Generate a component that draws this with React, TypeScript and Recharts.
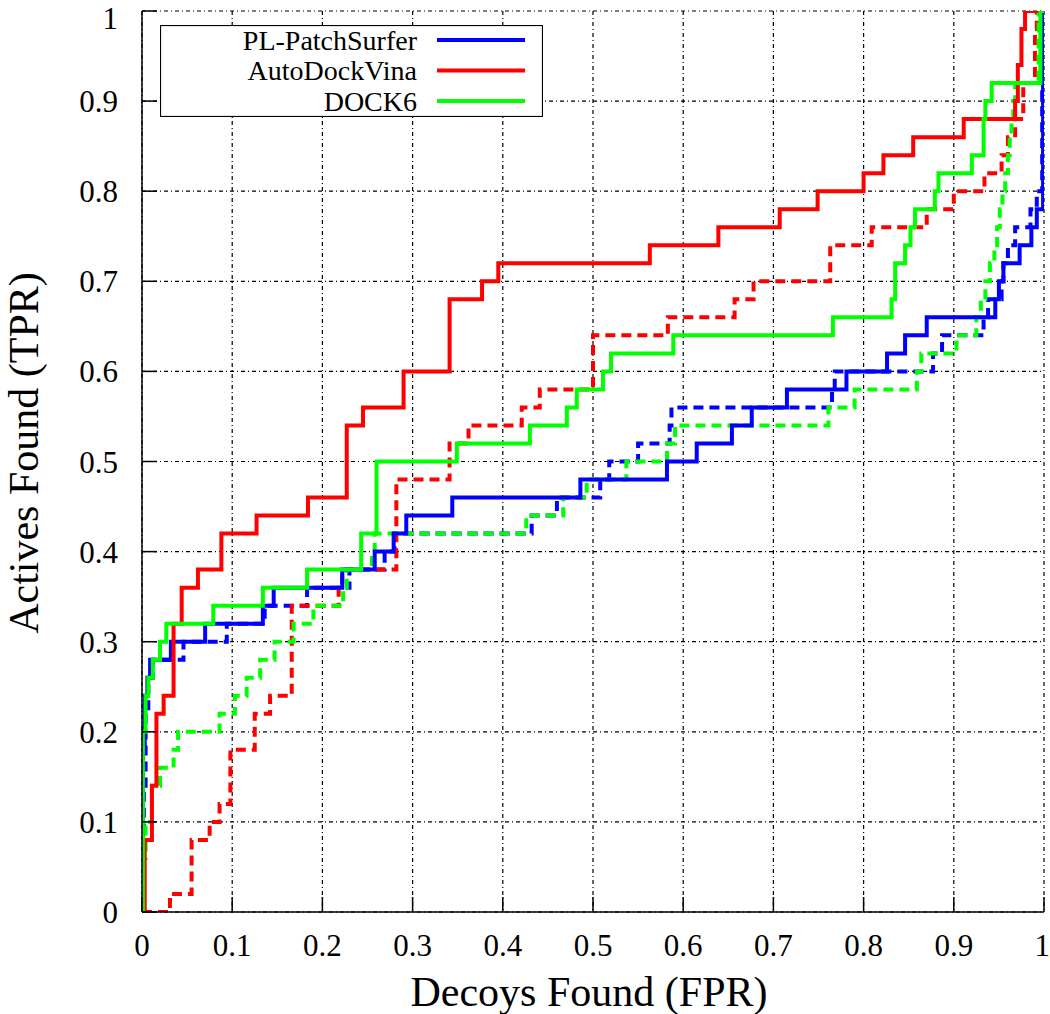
import { LineChart, Line, XAxis, YAxis, CartesianGrid, Legend, Label } from 'recharts'

const FONT = '"Liberation Serif", "DejaVu Serif", serif'

const xTicks = [0, 0.1, 0.2, 0.3, 0.4, 0.5, 0.6, 0.7, 0.8, 0.9, 1]
const yTicks = [0, 0.1, 0.2, 0.3, 0.4, 0.5, 0.6, 0.7, 0.8, 0.9, 1]

// PL-PatchSurfer (solid / dashed)
const plFpr = [0, 0.001, 0.003, 0.006, 0.009, 0.032, 0.07, 0.134, 0.146, 0.222, 0.258, 0.279, 0.293, 0.344, 0.486, 0.582, 0.615, 0.654, 0.676, 0.715, 0.781, 0.826, 0.846, 0.87, 0.946, 0.95, 0.955, 0.973, 0.986, 0.992, 0.999, 1]
const plTpr = [0, 0.18, 0.24, 0.26, 0.28, 0.30, 0.32, 0.34, 0.36, 0.38, 0.40, 0.42, 0.44, 0.46, 0.48, 0.50, 0.52, 0.54, 0.56, 0.58, 0.60, 0.62, 0.64, 0.66, 0.68, 0.70, 0.72, 0.74, 0.76, 0.78, 1.0, 1.0]
const plDashFpr = [0, 0.002, 0.004, 0.007, 0.012, 0.046, 0.094, 0.136, 0.183, 0.23, 0.269, 0.28, 0.432, 0.46, 0.508, 0.518, 0.55, 0.585, 0.587, 0.765, 0.768, 0.877, 0.887, 0.933, 0.938, 0.953, 0.955, 0.96, 0.968, 0.985, 0.992, 0.998, 1]
const plDashTpr = [0, 0.14, 0.22, 0.26, 0.28, 0.30, 0.32, 0.34, 0.36, 0.38, 0.40, 0.42, 0.44, 0.46, 0.48, 0.50, 0.52, 0.54, 0.56, 0.58, 0.60, 0.62, 0.64, 0.66, 0.68, 0.70, 0.72, 0.74, 0.76, 0.78, 0.80, 1.0, 1.0]

// AutoDockVina (solid / dashed)
const vinaFpr = [0, 0.003, 0.011, 0.016, 0.024, 0.035, 0.044, 0.062, 0.088, 0.127, 0.184, 0.227, 0.245, 0.29, 0.341, 0.377, 0.395, 0.563, 0.639, 0.707, 0.749, 0.80, 0.822, 0.855, 0.911, 0.968, 0.971, 0.975, 0.979, 1]
const vinaTpr = [0, 0.08, 0.14, 0.22, 0.24, 0.32, 0.36, 0.38, 0.42, 0.44, 0.46, 0.54, 0.56, 0.60, 0.68, 0.70, 0.72, 0.74, 0.76, 0.78, 0.80, 0.82, 0.84, 0.86, 0.88, 0.90, 0.94, 0.98, 1.0, 1.0]
const vinaDashFpr = [0, 0.031, 0.055, 0.075, 0.086, 0.098, 0.125, 0.142, 0.166, 0.218, 0.222, 0.282, 0.341, 0.362, 0.421, 0.441, 0.50, 0.583, 0.657, 0.678, 0.763, 0.809, 0.87, 0.90, 0.934, 0.953, 0.96, 0.968, 0.977, 0.99, 0.992, 1]
const vinaDashTpr = [0, 0.02, 0.08, 0.10, 0.12, 0.18, 0.22, 0.24, 0.34, 0.36, 0.38, 0.48, 0.52, 0.54, 0.56, 0.58, 0.64, 0.66, 0.68, 0.70, 0.74, 0.76, 0.78, 0.80, 0.82, 0.84, 0.86, 0.88, 0.92, 0.98, 1.0, 1.0]

// DOCK6 (solid / dashed)
const dockFpr = [0, 0.001, 0.004, 0.007, 0.012, 0.02, 0.027, 0.079, 0.134, 0.183, 0.243, 0.26, 0.349, 0.43, 0.471, 0.482, 0.511, 0.52, 0.589, 0.766, 0.831, 0.835, 0.846, 0.852, 0.857, 0.879, 0.883, 0.92, 0.933, 0.935, 0.942, 0.996, 1]
const dockTpr = [0, 0.20, 0.24, 0.26, 0.28, 0.30, 0.32, 0.34, 0.36, 0.38, 0.42, 0.50, 0.52, 0.54, 0.56, 0.58, 0.60, 0.62, 0.64, 0.66, 0.68, 0.72, 0.74, 0.76, 0.78, 0.80, 0.82, 0.84, 0.88, 0.90, 0.92, 1.0, 1.0]
const dockDashFpr = [0, 0.002, 0.004, 0.011, 0.02, 0.035, 0.04, 0.086, 0.103, 0.116, 0.131, 0.147, 0.168, 0.19, 0.223, 0.227, 0.255, 0.258, 0.426, 0.467, 0.493, 0.537, 0.582, 0.591, 0.761, 0.79, 0.859, 0.864, 0.903, 0.925, 0.93, 0.935, 0.94, 0.945, 0.948, 0.951, 0.954, 0.957, 0.96, 0.962, 0.964, 0.966, 0.968, 0.994, 1]
const dockDashTpr = [0, 0.06, 0.10, 0.14, 0.16, 0.18, 0.20, 0.22, 0.24, 0.26, 0.28, 0.30, 0.32, 0.34, 0.36, 0.38, 0.40, 0.42, 0.44, 0.46, 0.48, 0.50, 0.52, 0.54, 0.56, 0.58, 0.60, 0.62, 0.64, 0.66, 0.68, 0.70, 0.72, 0.74, 0.76, 0.78, 0.80, 0.82, 0.84, 0.86, 0.88, 0.90, 0.92, 1.0, 1.0]

const BLUE = '#0000ff'
const RED = '#ff0000'
const GREEN = '#00ff00'

const toPoints = (fpr: number[], tpr: number[]) => fpr.map((x, i) => ({ fpr: x, tpr: tpr[i] }))

// dashed curves first so the solid ones sit on top
const series = [
  { id: 'pl-dash', name: 'PL-PatchSurfer (dashed)', color: BLUE, dashed: true, data: toPoints(plDashFpr, plDashTpr) },
  { id: 'vina-dash', name: 'AutoDockVina (dashed)', color: RED, dashed: true, data: toPoints(vinaDashFpr, vinaDashTpr) },
  { id: 'dock-dash', name: 'DOCK6 (dashed)', color: GREEN, dashed: true, data: toPoints(dockDashFpr, dockDashTpr) },
  { id: 'pl', name: 'PL-PatchSurfer', color: BLUE, dashed: false, data: toPoints(plFpr, plTpr) },
  { id: 'vina', name: 'AutoDockVina', color: RED, dashed: false, data: toPoints(vinaFpr, vinaTpr) },
  { id: 'dock', name: 'DOCK6', color: GREEN, dashed: false, data: toPoints(dockFpr, dockTpr) },
]

const legendItems = [
  { name: 'PL-PatchSurfer', color: BLUE },
  { name: 'AutoDockVina', color: RED },
  { name: 'DOCK6', color: GREEN },
]

function LegendBox() {
  return (
    <svg width={383} height={92} style={{ display: 'block', fontFamily: FONT }}>
      <rect x={0.5} y={0.5} width={382} height={91} fill="#fff" stroke="#000" strokeWidth={1.2} />
      {legendItems.map((it, i) => {
        const cy = 15 + i * 30.5
        return (
          <g key={it.name}>
            <text x={257} y={cy} dy="0.35em" textAnchor="end" fontSize={28} style={{ fontFamily: FONT }} fill="#000">
              {it.name}
            </text>
            <line x1={277} x2={365} y1={cy} y2={cy} stroke={it.color} strokeWidth={4} />
          </g>
        )
      })}
    </svg>
  )
}

const XTitle = () => (
  <text x={589} y={1006} textAnchor="middle" fontSize={42} style={{ fontFamily: FONT }} fill="#000">
    Decoys Found (FPR)
  </text>
)

const YTitle = () => (
  <text x={38} y={453} transform="rotate(-90 38 453)" textAnchor="middle" fontSize={42} style={{ fontFamily: FONT }} fill="#000">
    Actives Found (TPR)
  </text>
)

const tickStyle = { fontSize: 31, fill: '#000', fontFamily: FONT, style: { fontFamily: FONT } }
const axisLine = { stroke: '#000', strokeWidth: 1.5 }
const tickLine = { stroke: '#000', strokeWidth: 1.5 }

export default function App() {
  return (
    <div style={{ position: 'absolute', left: 0, top: 0, width: 1050, height: 1014, background: '#fff', fontFamily: FONT }}>
      <LineChart width={1050} height={1014} margin={{ top: 11, right: 6, bottom: 0, left: 0 }} style={{ fontFamily: FONT }}>
        <CartesianGrid stroke="#000" strokeWidth={1.2} strokeDasharray="4 3 1 3" />
        <XAxis
          dataKey="fpr"
          type="number"
          domain={[0, 1]}
          ticks={xTicks}
          height={102}
          tickSize={-15}
          tickMargin={37}
          tick={tickStyle}
          axisLine={axisLine}
          tickLine={tickLine}
          allowDataOverflow
        >
          <Label content={XTitle} />
        </XAxis>
        <XAxis
          xAxisId="top"
          orientation="top"
          type="number"
          domain={[0, 1]}
          ticks={xTicks}
          height={0}
          tickSize={-15}
          tick={false}
          axisLine={axisLine}
          tickLine={tickLine}
        />
        <YAxis
          type="number"
          domain={[0, 1]}
          ticks={yTicks}
          width={142}
          tickSize={-15}
          tickMargin={39}
          tick={tickStyle}
          axisLine={axisLine}
          tickLine={tickLine}
          allowDataOverflow
        >
          <Label content={YTitle} />
        </YAxis>
        <YAxis
          yAxisId="right"
          orientation="right"
          type="number"
          domain={[0, 1]}
          ticks={yTicks}
          width={0}
          tickSize={-15}
          tick={false}
          axisLine={axisLine}
          tickLine={tickLine}
        />
        <Legend
          layout="horizontal"
          align="center"
          verticalAlign="middle"
          wrapperStyle={{ position: 'absolute', left: 160, top: 25, width: 383, height: 92, margin: 0, padding: 0 }}
          content={() => <LegendBox />}
        />
        {series.map(s => (
          <Line
            key={s.id}
            data={s.data}
            dataKey="tpr"
            name={s.name}
            type="stepAfter"
            stroke={s.color}
            strokeWidth={4}
            strokeDasharray={s.dashed ? '10 6' : undefined}
            dot={false}
            activeDot={false}
            isAnimationActive={false}
          />
        ))}
      </LineChart>
    </div>
  )
}
